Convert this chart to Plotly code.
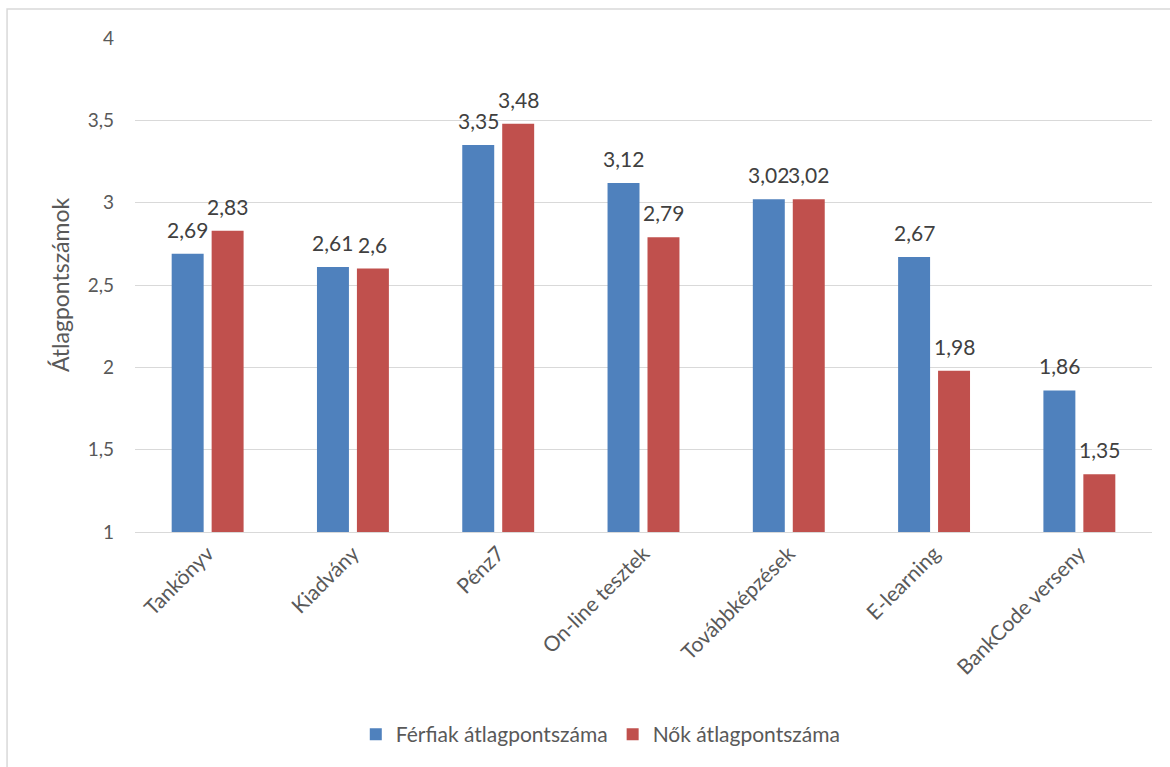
import plotly.graph_objects as go

categories = ["Tankönyv", "Kiadvány", "Pénz7", "On-line tesztek",
              "Továbbképzések", "E-learning", "BankCode verseny"]
ferfiak = [2.69, 2.61, 3.35, 3.12, 3.02, 2.67, 1.86]
nok = [2.83, 2.60, 3.48, 2.79, 3.02, 1.98, 1.35]
series_names = ["Férfiak átlagpontszáma", "Nők átlagpontszáma"]
y_ticks = [1, 1.5, 2, 2.5, 3, 3.5, 4]

BLUE = "#4F81BD"
RED = "#C0504D"
TEXT = "#595959"
GRID = "#D9D9D9"
FONT = "Lato, Carlito, 'Liberation Sans', sans-serif"


def fmt(v):
    return f"{v:g}".replace(".", ",")


fig = go.Figure()
labels = []
for (name, vals, col), shift in zip(
        [(series_names[0], ferfiak, BLUE), (series_names[1], nok, RED)], (-20, 20)):
    fig.add_trace(go.Bar(
        x=categories, y=vals, name=name,
        marker=dict(color=col, line=dict(width=0)),
        cliponaxis=False,
    ))
    # value labels sitting above each bar
    for c, v in zip(categories, vals):
        labels.append(dict(x=c, y=v, xref="x", yref="y", text=fmt(v),
                           showarrow=False, xanchor="center", yanchor="bottom",
                           xshift=shift, yshift=10,
                           font=dict(family=FONT, size=21, color="#404040")))

labels.append(dict(text="Átlagpontszámok", xref="paper", yref="paper",
                   x=-0.0737, y=0.5, xanchor="center", yanchor="middle",
                   textangle=-90, showarrow=False,
                   font=dict(family=FONT, size=23, color=TEXT)))

fig.update_layout(
    width=1170, height=767,
    margin=dict(l=135, r=18, t=38, b=235),
    paper_bgcolor="white", plot_bgcolor="white",
    barmode="group", bargap=0.45, bargroupgap=0.2,
    font=dict(family=FONT, color=TEXT),
    showlegend=True,
    legend=dict(orientation="h", x=0.458, xanchor="center", y=-0.41, yanchor="middle",
                font=dict(family=FONT, size=21, color=TEXT),
                itemwidth=30, traceorder="normal"),
    xaxis=dict(tickangle=-45, tickfont=dict(family=FONT, size=21, color=TEXT),
               showline=True, linecolor=GRID, linewidth=1, ticks=""),
    yaxis=dict(range=[1, 4], tickvals=y_ticks, ticktext=[fmt(t) for t in y_ticks],
               tickfont=dict(family=FONT, size=19, color=TEXT),
               showgrid=True, gridcolor=GRID, gridwidth=1,
               zeroline=False, showline=False, ticklabelstandoff=20),
    shapes=[dict(type="rect", xref="paper", yref="paper",
                 x0=-0.1258, x1=1.03, y0=-0.55, y1=1.0587,
                 line=dict(color=GRID, width=1.5), fillcolor="rgba(0,0,0,0)", layer="below")],
    annotations=labels,
)

fig.write_html("out.html")
